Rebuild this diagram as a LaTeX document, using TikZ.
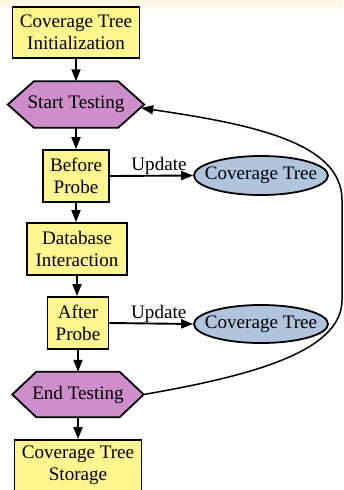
\documentclass[tikz,border=0pt]{standalone}
\usepackage{fontspec}
\setmainfont{Liberation Serif}
\usetikzlibrary{arrows.meta,calc,shapes.geometric,backgrounds}
\definecolor{boxyellow}{RGB}{255,246,143}
\definecolor{hexpurple}{RGB}{205,142,203}
\definecolor{ellblue}{RGB}{176,196,222}
\definecolor{topcream}{RGB}{255,245,224}
\begin{document}
\begin{tikzpicture}[x=1pt,y=-1pt,
  fs/.style={font=\fontsize{19.1}{22}\selectfont},
  box/.style={fs,draw,line width=1.8pt,fill=boxyellow,inner sep=0pt,align=center},
  hexbox/.style={fs,inner sep=0pt,align=center},
  hexshape/.style={draw,line width=1.8pt,fill=hexpurple,line join=miter},
  ellnode/.style={fs,ellipse,draw,line width=1.8pt,fill=ellblue,inner sep=0pt,minimum width=134pt,minimum height=39pt},
  arr/.style={-{Triangle[length=12pt,width=9pt]},line width=1.9pt},
  backarr/.style={-{Triangle[length=12pt,width=9pt]},line width=1.5pt},
  lbl/.style={fs,inner sep=0pt,anchor=base,yshift=5pt}
]
\useasboundingbox (0,0) rectangle (343,490);

\node[box,minimum width=127pt,minimum height=51pt] (init) at (76,32.5) {Coverage Tree\\Initialization};
\node[hexbox,minimum width=136pt,minimum height=46pt] (start) at (76,104.5) {Start Testing};
\node[box,minimum width=66pt,minimum height=52pt] (before) at (76,176) {Before\\Probe};
\node[ellnode] (ct1) at (261,175.5) {\makebox[0pt]{Coverage Tree}};
\node[box,minimum width=100pt,minimum height=52pt] (db) at (77,249) {Database\\Interaction};
\node[box,minimum width=61pt,minimum height=52pt] (after) at (78,323) {After\\Probe};
\node[ellnode,minimum height=38pt] (ct2) at (261,324) {\makebox[0pt]{Coverage Tree}};
\node[hexbox,minimum width=131pt,minimum height=45pt] (end) at (78,394.5) {End Testing};
\node[box,minimum width=127pt,minimum height=51pt] (store) at (78,465.5) {Coverage Tree\\Storage};
\coordinate (startin) at ($(start.east)+(-3,3.5)$);

\begin{scope}[on background layer]
  \fill[white] (0,0) rectangle (343,490);
  \shade[top color=topcream,bottom color=white] (0,0) rectangle (343,12);
  \draw[hexshape] (start.west) -- ($(start.north west)+(26,0)$) -- ($(start.north east)+(-26,0)$) -- (start.east) -- ($(start.south east)+(-26,0)$) -- ($(start.south west)+(26,0)$) -- cycle;
  \draw[hexshape] (end.west) -- ($(end.north west)+(24,0)$) -- ($(end.north east)+(-24,0)$) -- (end.east) -- ($(end.south east)+(-24,0)$) -- ($(end.south west)+(24,0)$) -- cycle;
\end{scope}

\draw[arr] (init.south) -- (init.south |- start.north);
\draw[arr] (start.south) -- (start.south |- before.north);
\draw[arr] (before.south) -- (before.south |- db.north);
\draw[arr] (db.south) -- (db.south |- after.north);
\draw[arr] (after.south) -- (after.south |- end.north);
\draw[arr] (end.south) -- (end.south |- store.north);

\draw[arr] (before.east) -- node[lbl,pos=0.59] {Update} (ct1.west);
\draw[arr] (after.east) -- node[lbl,pos=0.59] {Update} (ct2.west);

\draw[backarr] (end.east) .. controls (250,376) and (342,352) .. (342,300) -- (342,200) .. controls (342,142) and (250,124) .. (startin);
\end{tikzpicture}
\end{document}
